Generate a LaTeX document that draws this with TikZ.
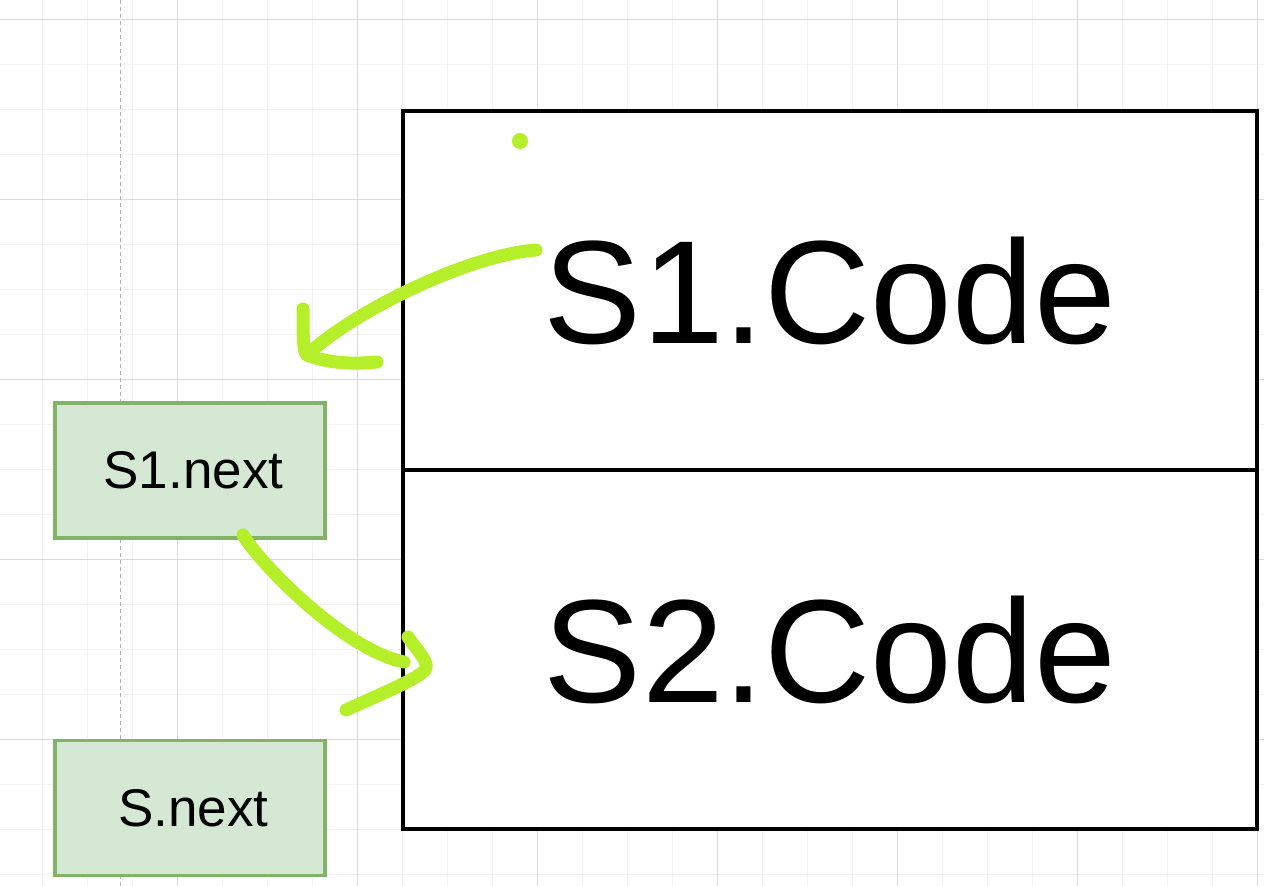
\documentclass[tikz,border=0pt]{standalone}
\usepackage{fontspec}
\setmainfont{Liberation Sans}
\definecolor{gridmin}{HTML}{F3F3F3}
\definecolor{gridmaj}{HTML}{DADADA}
\definecolor{limeink}{HTML}{B5EF2A}
\definecolor{boxfill}{HTML}{D5E8D4}
\definecolor{boxline}{HTML}{82B366}
\definecolor{dashgray}{HTML}{B4B4B4}
\tikzset{
  minorgrid/.style={draw=gridmin, line width=1pt},
  majorgrid/.style={draw=gridmaj, line width=1pt},
  codebox/.style={draw=black, fill=white, line width=3.5pt, minimum width=854pt, minimum height=359pt, inner sep=0pt, font=\fontsize{147}{176}\selectfont},
  nextbox/.style={draw=boxline, fill=boxfill, line width=3.5pt, minimum width=270pt, minimum height=135pt, inner sep=0pt, font=\fontsize{53}{64}\selectfont},
  ink/.style={draw=limeink, line width=13pt, line cap=round, line join=round},
}
\begin{document}
\begin{tikzpicture}[x=1pt,y=-1pt]
\useasboundingbox (0,0) rectangle (1264,886);
\fill[white] (0,0) rectangle (1264,886);
% grid
\foreach \x in {-3,42,...,1264} \draw[minorgrid] (\x,0) -- (\x,886);
\foreach \y in {19,64,...,886} \draw[minorgrid] (0,\y) -- (1264,\y);
\foreach \x in {-3,177,...,1264} \draw[majorgrid] (\x,0) -- (\x,886);
\foreach \y in {19,199,...,886} \draw[majorgrid] (0,\y) -- (1264,\y);
% dashed guide
\draw[dashgray, line width=1pt, dash pattern=on 4pt off 3pt] (120,0) -- (120,886);
% code boxes
\node[codebox] (s1code) at (830,290.5) {S1.Code};
\node[codebox] (s2code) at (830,649.5) {S2.Code};
% next boxes
\node[nextbox] (s1next) at (190,470.5) {\hspace*{7pt}S1.next};
\node[nextbox] (snext) at (190,808) {\hspace*{7pt}S.next};
% freehand strokes
\coordinate (a1s) at (536,250);
\coordinate (a1e) at (307,355);
\coordinate (h1a) at (303,309);
\coordinate (h1b) at (377,362);
\coordinate (dot) at (520,141);
\coordinate (a2s) at (243,535);
\coordinate (a2e) at (404,662);
\coordinate (h2a) at (408,637);
\coordinate (h2t) at (426,668);
\coordinate (h2b) at (346,710);
\draw[ink] (a1s) .. controls (470,255) and (355,310) .. (a1e);
\draw[ink] (h1a) .. controls (303,335) and (303,352) .. (a1e) .. controls (330,364) and (355,364) .. (h1b);
\fill[limeink] (dot) circle (8pt);
\draw[ink] (a2s) .. controls (262,566) and (345,650) .. (a2e);
\draw[ink] (h2a) .. controls (415,648) and (428,660) .. (h2t) .. controls (424,676) and (390,690) .. (h2b);
\end{tikzpicture}
\end{document}
